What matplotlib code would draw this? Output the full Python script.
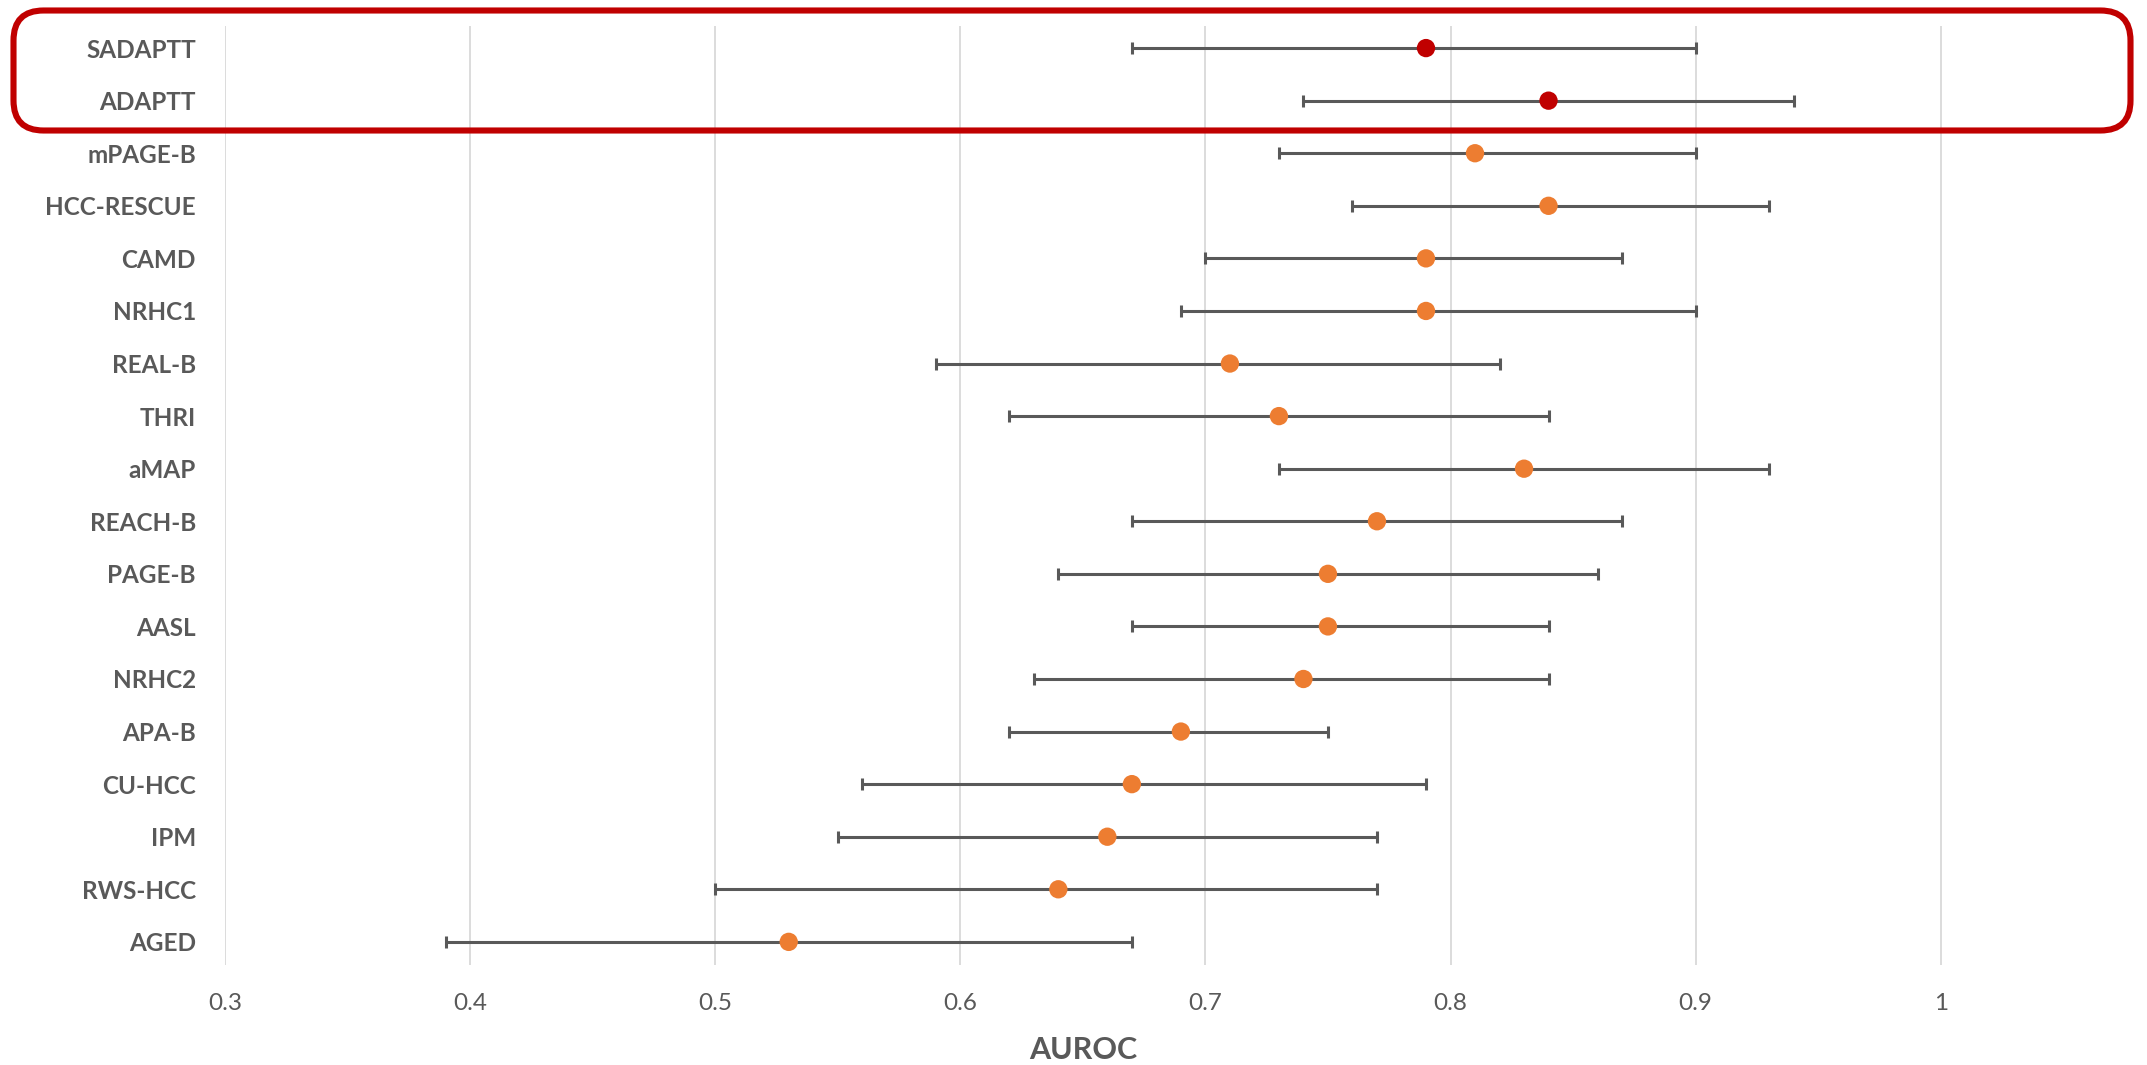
import numpy as np
import matplotlib
matplotlib.use("Agg")
import matplotlib.pyplot as plt
from matplotlib.patches import FancyBboxPatch

plt.rcParams['font.family'] = ['Lato', 'DejaVu Sans']

# data (AUROC with 95% CI)
models = ["SADAPTT", "ADAPTT", "mPAGE-B", "HCC-RESCUE", "CAMD", "NRHC1", "REAL-B", "THRI",
          "aMAP", "REACH-B", "PAGE-B", "AASL", "NRHC2", "APA-B", "CU-HCC", "IPM", "RWS-HCC", "AGED"]
auroc = [0.79, 0.84, 0.81, 0.84, 0.79, 0.79, 0.71, 0.73, 0.83, 0.77, 0.75, 0.75, 0.74, 0.69,
         0.67, 0.66, 0.64, 0.53]
ci_low = [0.67, 0.74, 0.73, 0.76, 0.70, 0.69, 0.59, 0.62, 0.73, 0.67, 0.64, 0.67, 0.63, 0.62,
          0.56, 0.55, 0.50, 0.39]
ci_high = [0.90, 0.94, 0.90, 0.93, 0.87, 0.90, 0.82, 0.84, 0.93, 0.87, 0.86, 0.84, 0.84, 0.75,
           0.79, 0.77, 0.77, 0.67]
highlight = ["SADAPTT", "ADAPTT"]
xticks = [0.3, 0.4, 0.5, 0.6, 0.7, 0.8, 0.9, 1.0]
xticklabels = ["0.3", "0.4", "0.5", "0.6", "0.7", "0.8", "0.9", "1"]

grey = "#595959"
W, H = 2147, 1065
fig = plt.figure(figsize=(W / 100, H / 100), dpi=100)
ax = fig.add_axes([225 / W, 1 - 965 / H, 1 - 225 / W, (965 - 26) / H])

y = np.arange(len(models))
auroc = np.array(auroc)
lo = auroc - np.array(ci_low)
hi = np.array(ci_high) - auroc

ax.errorbar(auroc, y, xerr=[lo, hi], fmt='none', ecolor=grey, elinewidth=2.2,
            capsize=4.5, capthick=2.2, zorder=2)
cols = ["#C00000" if m in highlight else "#ED7D31" for m in models]
ax.scatter(auroc, y, s=13.2 ** 2, c=cols, zorder=3, linewidths=0)

ax.set_xlim(0.3, 0.3 + (W - 225) / 2451)
ax.set_ylim(17.44, -0.42)
ax.set_xticks(xticks)
ax.set_xticklabels(xticklabels)
ax.set_yticks(y)
ax.set_yticklabels(models, fontweight='bold')
ax.tick_params(axis='y', length=0, pad=21, labelsize=17.5, labelcolor=grey)
ax.tick_params(axis='x', length=0, pad=20, labelsize=17.5, labelcolor=grey)
ax.grid(axis='x', color='#D9D9D9', linewidth=1.3)
ax.set_axisbelow(True)
for s in ax.spines.values():
    s.set_visible(False)

ax.set_xlabel("AUROC", fontsize=22, fontweight='bold', color=grey, va='center')
ax.xaxis.set_label_coords((0.65 - 0.3) / (ax.get_xlim()[1] - 0.3), -85 / 939)

# red rounded box around the highlighted rows (overlay in pixel units)
ov = fig.add_axes([0, 0, 1, 1], facecolor='none')
ov.set_xlim(0, W)
ov.set_ylim(H, 0)
ov.axis('off')
box = FancyBboxPatch((13.5, 10.5), 2117, 120, boxstyle="round,pad=0,rounding_size=30",
                     fill=False, edgecolor="#C00000", linewidth=4.4)
ov.add_patch(box)

fig.savefig("out.png", dpi=100)
